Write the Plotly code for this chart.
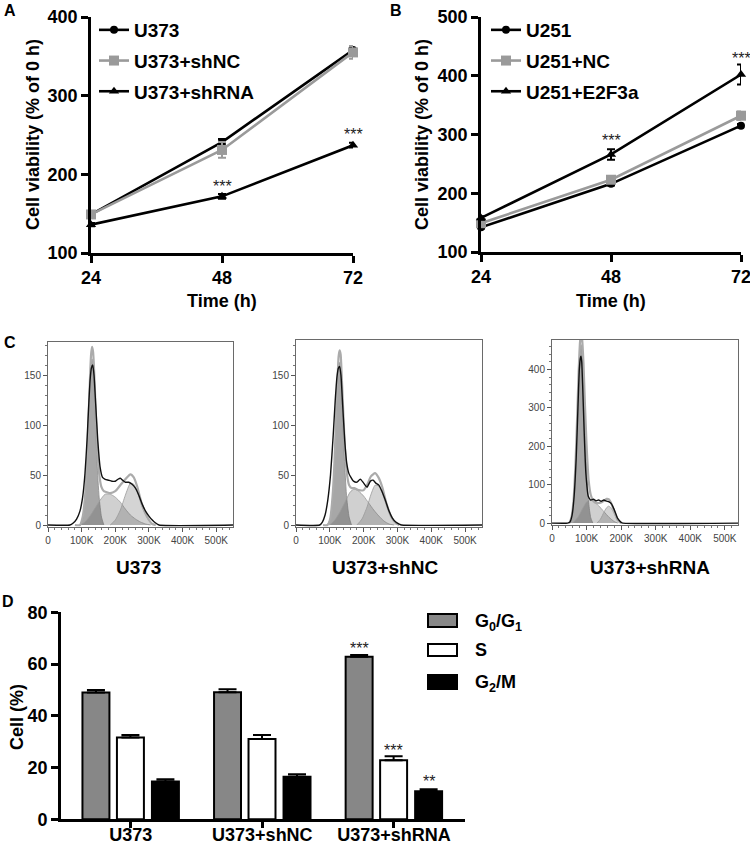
import plotly.graph_objects as go

W, H = 750, 845
FONT = "Arial, Liberation Sans, sans-serif"

# ---------------- Panel A / B data ----------------
time_h = [24, 48, 72]
a_u373 = [149, 241, 358]
a_u373_err = [2, 4, 4]
a_shnc = [149, 231, 355]
a_shnc_err = [3, 10, 8]
a_shrna = [136, 172, 237]
a_shrna_err = [2, 3, 3]

b_u251 = [142, 216, 315]
b_u251_err = [2, 3, 3]
b_nc = [149, 223, 332]
b_nc_err = [3, 5, 7]
b_e2f3a = [158, 266, 402]
b_e2f3a_err = [3, 9, 17]

# ---------------- Panel C data (x in K, counts) ----------------
h1_data_x = [0, 65, 75, 85, 95, 103, 110, 116, 121, 125, 129, 133, 137, 142, 148, 155, 162, 170, 180, 190, 200, 208, 215, 222, 230, 240, 250, 260, 270, 280, 290, 300, 310, 320, 330, 550]
h1_data_y = [0, 0, 2, 6, 14, 28, 52, 85, 120, 145, 158, 161, 150, 120, 85, 58, 48, 46, 45, 44, 44, 46, 47, 45, 43, 43, 41, 37, 30, 21, 14, 9, 5, 2, 0, 0]
h1_fit_x = [80, 95, 103, 110, 116, 121, 125, 128, 131, 134, 137, 141, 146, 152, 159, 166, 175, 185, 200, 215, 230, 245, 255, 265, 280, 295, 310, 320]
h1_fit_y = [0, 0, 8, 28, 65, 112, 149, 171, 179, 174, 156, 122, 82, 52, 38, 34, 33, 32, 34, 40, 46, 51, 48, 39, 20, 8, 1, 0]
h1_g1_x = [95, 103, 110, 116, 121, 125, 128, 131, 134, 137, 141, 146, 152, 159, 166]
h1_g1_y = [0, 6, 25, 60, 105, 140, 160, 167, 160, 140, 105, 62, 28, 8, 0]
h1_s_x = [95, 110, 125, 140, 155, 170, 185, 200, 215, 230, 245, 260, 275, 290, 305]
h1_s_y = [0, 3, 9, 17, 25, 31, 31, 28, 23, 16, 10, 6, 3, 1, 0]
h1_g2_x = [185, 200, 215, 230, 245, 255, 265, 280, 295, 310, 320]
h1_g2_y = [0, 5, 15, 30, 42, 41, 34, 18, 7, 1, 0]

h2_data_x = [0, 70, 78, 86, 94, 102, 110, 116, 121, 125, 129, 133, 138, 144, 150, 156, 162, 170, 180, 190, 200, 210, 220, 228, 236, 245, 255, 265, 275, 285, 295, 305, 312, 550]
h2_data_y = [0, 0, 3, 10, 25, 50, 90, 125, 148, 157, 159, 150, 120, 85, 62, 52, 48, 44, 43, 46, 42, 38, 44, 45, 42, 40, 33, 24, 14, 7, 3, 1, 0, 0]
h2_fit_x = [80, 93, 101, 108, 114, 119, 123, 126, 129, 132, 135, 139, 144, 150, 157, 164, 172, 185, 200, 210, 222, 234, 245, 255, 268, 282, 295, 305]
h2_fit_y = [0, 0, 6, 28, 65, 112, 147, 169, 175, 171, 151, 119, 82, 53, 40, 37, 37, 35, 35, 40, 49, 52, 47, 38, 21, 8, 2, 0]
h2_g1_x = [93, 101, 108, 114, 119, 123, 126, 129, 132, 135, 139, 144, 150, 157, 164]
h2_g1_y = [0, 6, 25, 60, 105, 138, 158, 163, 156, 135, 100, 60, 27, 8, 0]
h2_s_x = [100, 115, 130, 145, 160, 172, 185, 200, 215, 230, 245, 260, 275, 290]
h2_s_y = [0, 5, 13, 23, 33, 36, 34, 29, 22, 15, 9, 4, 1, 0]
h2_g2_x = [180, 195, 210, 222, 234, 245, 255, 268, 282, 295, 305]
h2_g2_y = [0, 6, 18, 31, 40, 39, 32, 19, 8, 2, 0]

h3_data_x = [0, 45, 52, 58, 64, 70, 75, 79, 82, 84, 86, 89, 93, 98, 105, 112, 120, 128, 135, 142, 150, 158, 165, 172, 180, 190, 200, 205, 538]
h3_data_y = [0, 0, 3, 20, 70, 170, 300, 400, 430, 435, 420, 350, 240, 130, 70, 60, 62, 58, 60, 57, 60, 57, 55, 50, 35, 12, 2, 0, 0]
h3_fit_x = [50, 56, 62, 68, 73, 77, 81, 84, 87, 91, 95, 100, 106, 112, 120, 130, 140, 150, 158, 164, 170, 180, 190, 200]
h3_fit_y = [0, 14, 55, 156, 282, 392, 471, 493, 480, 417, 316, 204, 111, 74, 57, 52, 53, 58, 63, 62, 54, 30, 8, 0]
h3_g1_x = [50, 56, 62, 68, 73, 77, 81, 84, 87, 91, 95, 100, 106, 112, 118]
h3_g1_y = [0, 14, 53, 149, 270, 375, 447, 465, 447, 375, 270, 149, 53, 14, 0]
h3_s_x = [60, 75, 90, 100, 110, 120, 135, 150, 165, 180, 190]
h3_s_y = [0, 15, 40, 55, 60, 57, 45, 30, 15, 4, 0]
h3_g2_x = [130, 140, 150, 158, 164, 170, 180, 190, 200]
h3_g2_y = [0, 10, 28, 40, 44, 40, 25, 8, 0]

hist_titles = ["U373", "U373+shNC", "U373+shRNA"]
hist_xticks = [0, 100, 200, 300, 400, 500]
hist_xticktext = ["0", "100K", "200K", "300K", "400K", "500K"]

# ---------------- Panel D data ----------------
groups = ["U373", "U373+shNC", "U373+shRNA"]
d_g01 = [49.0, 49.1, 62.8]
d_g01_err = [1.0, 1.2, 0.7]
d_s = [31.6, 31.0, 22.8]
d_s_err = [1.0, 1.6, 1.6]
d_g2m = [14.6, 16.4, 10.8]
d_g2m_err = [0.9, 1.0, 0.8]


def px(x):
    return x / W


def py(y):
    return 1 - y / H


fig = go.Figure()

GRAY = "#9a9a9a"


def line_trace(x, y, err, name, color, symbol, size, xa, ya, legend):
    return go.Scatter(
        x=x, y=y, name="<b>%s</b>" % name, mode="lines+markers",
        line=dict(color=color, width=2.6),
        marker=dict(color=color, symbol=symbol, size=size),
        error_y=dict(type="data", array=err, color=color, thickness=2, width=4),
        xaxis=xa, yaxis=ya, legend=legend, legendgroup=name, cliponaxis=False,
    )


fig.add_trace(line_trace(time_h, a_u373, a_u373_err, "U373", "black", "circle", 8, "x", "y", "legend"))
fig.add_trace(line_trace(time_h, a_shnc, a_shnc_err, "U373+shNC", GRAY, "square", 10, "x", "y", "legend"))
fig.add_trace(line_trace(time_h, a_shrna, a_shrna_err, "U373+shRNA", "black", "triangle-up", 9, "x", "y", "legend"))

fig.add_trace(line_trace(time_h, b_u251, b_u251_err, "U251", "black", "circle", 8, "x2", "y2", "legend2"))
fig.add_trace(line_trace(time_h, b_nc, b_nc_err, "U251+NC", GRAY, "square", 10, "x2", "y2", "legend2"))
fig.add_trace(line_trace(time_h, b_e2f3a, b_e2f3a_err, "U251+E2F3a", "black", "triangle-up", 9, "x2", "y2", "legend2"))

# Histograms
hists = [
    (h1_data_x, h1_data_y, h1_fit_x, h1_fit_y, h1_g1_x, h1_g1_y, h1_s_x, h1_s_y, h1_g2_x, h1_g2_y),
    (h2_data_x, h2_data_y, h2_fit_x, h2_fit_y, h2_g1_x, h2_g1_y, h2_s_x, h2_s_y, h2_g2_x, h2_g2_y),
    (h3_data_x, h3_data_y, h3_fit_x, h3_fit_y, h3_g1_x, h3_g1_y, h3_s_x, h3_s_y, h3_g2_x, h3_g2_y),
]
for i, (dx, dy, fx, fy, g1x, g1y, sx, sy, g2x, g2y) in enumerate(hists):
    xa, ya = "x%d" % (i + 3), "y%d" % (i + 3)
    common = dict(xaxis=xa, yaxis=ya, showlegend=False, hoverinfo="skip")
    fig.add_trace(go.Scatter(x=g1x, y=g1y, mode="lines", fill="tozeroy",
                             fillcolor="rgba(95,95,95,0.55)",
                             line=dict(color="#8a8a8a", width=0.8, shape="spline", smoothing=0.6), **common))
    fig.add_trace(go.Scatter(x=sx, y=sy, mode="lines", fill="tozeroy",
                             fillcolor="rgba(100,100,100,0.30)",
                             line=dict(color="#9a9a9a", width=0.8, shape="spline", smoothing=0.6), **common))
    fig.add_trace(go.Scatter(x=g2x, y=g2y, mode="lines", fill="tozeroy",
                             fillcolor="rgba(100,100,100,0.28)",
                             line=dict(color="#9a9a9a", width=0.8, shape="spline", smoothing=0.6), **common))
    fig.add_trace(go.Scatter(x=fx, y=fy, mode="lines",
                             line=dict(color="#ababab", width=2.2, shape="spline", smoothing=0.6), **common))
    fig.add_trace(go.Scatter(x=dx, y=dy, mode="lines",
                             line=dict(color="#111111", width=1.4, shape="spline", smoothing=0.5), **common))

# Panel D bars
bar_specs = [
    (d_g01, d_g01_err, "G0/G1", "#878787", -0.367),
    (d_s, d_s_err, "S", "white", -0.105),
    (d_g2m, d_g2m_err, "G2/M", "black", 0.161),
]
for vals, errs, name, col, off in bar_specs:
    fig.add_trace(go.Bar(
        x=groups, y=vals, name=name, width=0.205, offset=off,
        marker=dict(color=col, line=dict(color="black", width=2)),
        error_y=dict(type="data", array=errs, arrayminus=[0, 0, 0], symmetric=False,
                     color="black", thickness=2, width=9),
        xaxis="x6", yaxis="y6", showlegend=False,
    ))

bold18 = dict(family=FONT, size=18, color="black", weight="bold")
bold19 = dict(family=FONT, size=19, color="black", weight="bold")

line_axis = dict(showline=True, linecolor="black", linewidth=2.6, ticks="outside",
                 ticklen=7, tickwidth=2.6, tickcolor="black", showgrid=False,
                 zeroline=False, tickfont=bold18)

layout = dict(
    width=W, height=H, margin=dict(l=0, r=0, t=0, b=0, autoexpand=False),
    paper_bgcolor="white", plot_bgcolor="white",
    showlegend=True, barmode="overlay",
    xaxis=dict(domain=[px(91), px(353)], range=[24, 72], tickvals=time_h, anchor="y", **line_axis),
    yaxis=dict(domain=[py(253), py(17)], range=[100, 400], tickvals=[100, 200, 300, 400], anchor="x", **line_axis),
    xaxis2=dict(domain=[px(481), px(741)], range=[24, 72], tickvals=time_h, anchor="y2",
                ticklabeloverflow="allow", **line_axis),
    yaxis2=dict(domain=[py(252), py(17)], range=[100, 500], tickvals=[100, 200, 300, 400, 500], anchor="x2", **line_axis),
    yaxis6=dict(domain=[py(819.3), py(612.3)], range=[0, 80], tickvals=[0, 20, 40, 60, 80], anchor="x6", **line_axis),
    legend=dict(x=px(94), y=py(11), xanchor="left", yanchor="top", bgcolor="rgba(0,0,0,0)",
                font=bold19, tracegroupgap=3, itemwidth=30),
    legend2=dict(x=px(486), y=py(11), xanchor="left", yanchor="top", bgcolor="rgba(0,0,0,0)",
                 font=bold19, tracegroupgap=3, itemwidth=30),
)
d_xaxis = dict(line_axis)
d_xaxis["ticklen"] = 6
layout["xaxis6"] = dict(domain=[px(61), px(465)], range=[-0.53, 2.54], anchor="y6", type="category",
                        ticklabelstandoff=-9, **d_xaxis)

hist_dom = [
    ([px(48), px(233)], [py(527), py(342)], [0, 550], [-2, 184], [0, 50, 100, 150], 10),
    ([px(296), px(482)], [py(527), py(340)], [0, 550], [-2, 185.5], [0, 50, 100, 150], 10),
    ([px(552), px(738)], [py(525), py(340)], [0, 538], [-5, 477], [0, 100, 200, 300, 400], 20),
]
small = dict(family=FONT, size=10, color="#444")
for i, (xd, yd, xr, yr, yt, ymin) in enumerate(hist_dom):
    n = i + 3
    layout["xaxis%d" % n] = dict(domain=xd, range=xr, anchor="y%d" % n, tickvals=hist_xticks,
                                 ticktext=hist_xticktext, showline=True, mirror=True,
                                 linecolor="#6a6a6a", linewidth=1, ticks="outside", ticklen=4,
                                 tickcolor="#555", showgrid=False, zeroline=False, tickfont=small,
                                 minor=dict(ticks="outside", ticklen=2, dtick=20, tickcolor="#777"))
    layout["yaxis%d" % n] = dict(domain=yd, range=yr, anchor="x%d" % n, tickvals=yt,
                                 showline=True, mirror=True, linecolor="#6a6a6a", linewidth=1,
                                 ticks="outside", ticklen=4, tickcolor="#555", showgrid=False,
                                 zeroline=False, tickfont=small,
                                 minor=dict(ticks="outside", ticklen=2, dtick=ymin, tickcolor="#777"))

fig.update_layout(**layout)


def pann(text, x, y, font, xanchor="center", yanchor="middle", angle=0):
    return dict(text=text, x=px(x), y=py(y), xref="paper", yref="paper", xanchor=xanchor,
                yanchor=yanchor, textangle=angle, showarrow=False, font=font)


ann = []
# panel labels
for lbl, x, y in [("A", 2, 0), ("B", 388, 0), ("C", 2, 332), ("D", 0, 591)]:
    ann.append(pann("<b>%s</b>" % lbl, x, y, dict(family=FONT, size=16, color="black"), "left", "top"))
# axis titles
ann.append(pann("<b>Cell viability (% of 0 h)</b>", 33, 135, bold18, angle=-90))
ann.append(pann("<b>Cell viability (% of 0 h)</b>", 422, 135, bold18, angle=-90))
ann.append(pann("<b>Time (h)</b>", 222, 301, bold18))
ann.append(pann("<b>Time (h)</b>", 611, 301, bold18))
ann.append(pann("<b>Cell (%)</b>", 17, 717, bold18, angle=-90))
# histogram titles
for t, x in zip(hist_titles, [138, 385, 650]):
    ann.append(pann("<b>%s</b>" % t, x, 567, dict(family=FONT, size=19, color="black")))
# significance stars
star = dict(family=FONT, size=16, color="#222")
for txt, x, y, xr, yr in [("***", 48, 184, "x", "y"), ("***", 72, 251, "x", "y"),
                          ("***", 48, 289, "x2", "y2"), ("***", 72, 430, "x2", "y2")]:
    ann.append(dict(text=txt, x=x, y=y, xref=xr, yref=yr, showarrow=False, font=star,
                    xanchor="center", yanchor="middle"))
for txt, idx, xs, y in [("***", 2, -0.26, 66.0), ("***", 2, 0.0, 26.5), ("**", 2, 0.265, 14.6)]:
    ann.append(dict(text=txt, x=idx + xs, y=y, xref="x6", yref="y6", showarrow=False, font=star,
                    xanchor="center", yanchor="middle"))
# Panel D legend (boxes + labels)
shapes = []
for (y0, y1, col), lab, ty in zip([(614, 627, "#878787"), (644, 656, "white"), (675, 689, "black")],
                                   ["<b>G<sub>0</sub>/G<sub>1</sub></b>", "<b>S</b>", "<b>G<sub>2</sub>/M</b>"],
                                   [622, 650, 683]):
    shapes.append(dict(type="rect", xref="paper", yref="paper", x0=px(428), x1=px(457),
                       y0=py(y1), y1=py(y0), fillcolor=col, line=dict(color="black", width=2)))
    ann.append(pann(lab, 473, ty, bold18, "left", "middle"))

fig.update_layout(annotations=ann, shapes=shapes)
fig.write_html("out.html", config={"displayModeBar": False},
               post_script="document.body.style.margin='0px';document.body.style.overflow='hidden';")
